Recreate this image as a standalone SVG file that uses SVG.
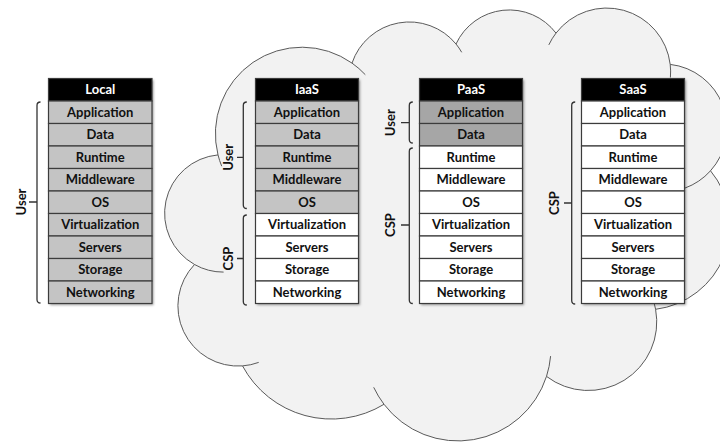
<svg xmlns="http://www.w3.org/2000/svg" width="720" height="444" viewBox="0 0 720 444">
  <defs>
    <filter id="shadow" x="-10%" y="-10%" width="130%" height="130%">
      <feDropShadow dx="1.5" dy="1.5" stdDeviation="1" flood-color="#000" flood-opacity="0.4"/>
    </filter>
  </defs>
  <style>
    .cloud { fill: #f2f2f2; stroke: #5a5a5a; stroke-width: 1; }
    .tail { fill: none; stroke: #5a5a5a; stroke-width: 1; }
    .base { fill: #fff; filter: url(#shadow); }
    .c { stroke: #3c3c3c; stroke-width: 1.2; }
    .hdr { fill: #000; }
    .w { fill: #fff; }
    .g1 { fill: #c4c4c4; }
    .g2 { fill: #a6a6a6; }
    .t { font-family: Lato, "Liberation Sans", sans-serif; font-weight: bold; font-size: 13px; text-anchor: middle; fill: #111; }
    .th { fill: #fff; }
    .br { fill: none; stroke: #333; stroke-width: 1.3; }
  </style>

  <rect width="720" height="444" fill="#fff"/>

  <!-- cloud outline built from circular bumps -->
  <g id="cloud">
    <path class="cloud" d="M218,154.9 A86.6,86.6 0 0 1 352,63.1 A60.5,60.5 0 0 1 456,44 A58.7,58.7 0 0 1 556,33.1 A63.9,63.9 0 0 1 670.2,64.4 A64,64 0 0 1 710.5,170.8 A85,85 0 0 1 655.6,309.3 A68.6,68.6 0 0 1 546.5,376.4 A93,93 0 0 1 384,404.3 A101,101 0 0 1 242.5,365.9 A60.1,60.1 0 0 1 194.5,264.5 A58.7,58.7 0 0 1 218,154.9 Z"/>
    <!-- inner ends of the bumps -->
    <path class="tail" d="M352,63.1 A86.6,86.6 0 0 1 365.3,74.7"/>
    <path class="tail" d="M221.7,166.2 A86.6,86.6 0 0 1 218,154.9"/>
    <path class="tail" d="M456,44 A60.5,60.5 0 0 1 461.7,52.3"/>
    <path class="tail" d="M548.8,44.9 A63.9,63.9 0 0 1 556,33.1"/>
    <path class="tail" d="M670.2,64.4 A63.9,63.9 0 0 1 670.4,77.5"/>
    <path class="tail" d="M710.5,170.8 A64,64 0 0 1 684.9,188.1"/>
    <path class="tail" d="M653.3,300.7 A68.6,68.6 0 0 1 655.6,309.3"/>
    <path class="tail" d="M550.6,356.1 A93,93 0 0 1 546.5,376.4"/>
    <path class="tail" d="M384,404.3 A93,93 0 0 1 373.7,387.3"/>
    <path class="tail" d="M258.7,362.4 A60.1,60.1 0 0 1 242.5,365.9"/>
    <path class="tail" d="M223.6,272.1 A58.7,58.7 0 0 1 194.5,264.5"/>
  </g>

  <!-- Local stack -->
  <g id="local" transform="translate(48.5,0)">
    <rect class="base" x="0" y="78.5" width="103.5" height="225"/>
    <rect class="c hdr" x="0" y="78.5" width="103.5" height="22.5"/>
    <rect class="c g1" x="0" y="101" width="103.5" height="22.5"/>
    <rect class="c g1" x="0" y="123.5" width="103.5" height="22.5"/>
    <rect class="c g1" x="0" y="146" width="103.5" height="22.5"/>
    <rect class="c g1" x="0" y="168.5" width="103.5" height="22.5"/>
    <rect class="c g1" x="0" y="191" width="103.5" height="22.5"/>
    <rect class="c g1" x="0" y="213.5" width="103.5" height="22.5"/>
    <rect class="c g1" x="0" y="236" width="103.5" height="22.5"/>
    <rect class="c g1" x="0" y="258.5" width="103.5" height="22.5"/>
    <rect class="c g1" x="0" y="281" width="103.5" height="22.5"/>
    <text class="t th" x="51.75" y="94.3">Local</text>
    <text class="t" x="51.75" y="116.8">Application</text>
    <text class="t" x="51.75" y="139.3">Data</text>
    <text class="t" x="51.75" y="161.8">Runtime</text>
    <text class="t" x="51.75" y="184.3">Middleware</text>
    <text class="t" x="51.75" y="206.8">OS</text>
    <text class="t" x="51.75" y="229.3">Virtualization</text>
    <text class="t" x="51.75" y="251.8">Servers</text>
    <text class="t" x="51.75" y="274.3">Storage</text>
    <text class="t" x="51.75" y="296.8">Networking</text>
  </g>

  <!-- IaaS stack -->
  <g id="iaas" transform="translate(255.5,0)">
    <rect class="base" x="0" y="78.5" width="103" height="225"/>
    <rect class="c hdr" x="0" y="78.5" width="103" height="22.5"/>
    <rect class="c g1" x="0" y="101" width="103" height="22.5"/>
    <rect class="c g1" x="0" y="123.5" width="103" height="22.5"/>
    <rect class="c g1" x="0" y="146" width="103" height="22.5"/>
    <rect class="c g1" x="0" y="168.5" width="103" height="22.5"/>
    <rect class="c g1" x="0" y="191" width="103" height="22.5"/>
    <rect class="c w" x="0" y="213.5" width="103" height="22.5"/>
    <rect class="c w" x="0" y="236" width="103" height="22.5"/>
    <rect class="c w" x="0" y="258.5" width="103" height="22.5"/>
    <rect class="c w" x="0" y="281" width="103" height="22.5"/>
    <text class="t th" x="51.5" y="94.3">IaaS</text>
    <text class="t" x="51.5" y="116.8">Application</text>
    <text class="t" x="51.5" y="139.3">Data</text>
    <text class="t" x="51.5" y="161.8">Runtime</text>
    <text class="t" x="51.5" y="184.3">Middleware</text>
    <text class="t" x="51.5" y="206.8">OS</text>
    <text class="t" x="51.5" y="229.3">Virtualization</text>
    <text class="t" x="51.5" y="251.8">Servers</text>
    <text class="t" x="51.5" y="274.3">Storage</text>
    <text class="t" x="51.5" y="296.8">Networking</text>
  </g>

  <!-- PaaS stack -->
  <g id="paas" transform="translate(419.5,0)">
    <rect class="base" x="0" y="78.5" width="103" height="225"/>
    <rect class="c hdr" x="0" y="78.5" width="103" height="22.5"/>
    <rect class="c g2" x="0" y="101" width="103" height="22.5"/>
    <rect class="c g2" x="0" y="123.5" width="103" height="22.5"/>
    <rect class="c w" x="0" y="146" width="103" height="22.5"/>
    <rect class="c w" x="0" y="168.5" width="103" height="22.5"/>
    <rect class="c w" x="0" y="191" width="103" height="22.5"/>
    <rect class="c w" x="0" y="213.5" width="103" height="22.5"/>
    <rect class="c w" x="0" y="236" width="103" height="22.5"/>
    <rect class="c w" x="0" y="258.5" width="103" height="22.5"/>
    <rect class="c w" x="0" y="281" width="103" height="22.5"/>
    <text class="t th" x="51.5" y="94.3">PaaS</text>
    <text class="t" x="51.5" y="116.8">Application</text>
    <text class="t" x="51.5" y="139.3">Data</text>
    <text class="t" x="51.5" y="161.8">Runtime</text>
    <text class="t" x="51.5" y="184.3">Middleware</text>
    <text class="t" x="51.5" y="206.8">OS</text>
    <text class="t" x="51.5" y="229.3">Virtualization</text>
    <text class="t" x="51.5" y="251.8">Servers</text>
    <text class="t" x="51.5" y="274.3">Storage</text>
    <text class="t" x="51.5" y="296.8">Networking</text>
  </g>

  <!-- SaaS stack -->
  <g id="saas" transform="translate(581.5,0)">
    <rect class="base" x="0" y="78.5" width="103" height="225"/>
    <rect class="c hdr" x="0" y="78.5" width="103" height="22.5"/>
    <rect class="c w" x="0" y="101" width="103" height="22.5"/>
    <rect class="c w" x="0" y="123.5" width="103" height="22.5"/>
    <rect class="c w" x="0" y="146" width="103" height="22.5"/>
    <rect class="c w" x="0" y="168.5" width="103" height="22.5"/>
    <rect class="c w" x="0" y="191" width="103" height="22.5"/>
    <rect class="c w" x="0" y="213.5" width="103" height="22.5"/>
    <rect class="c w" x="0" y="236" width="103" height="22.5"/>
    <rect class="c w" x="0" y="258.5" width="103" height="22.5"/>
    <rect class="c w" x="0" y="281" width="103" height="22.5"/>
    <text class="t th" x="51.5" y="94.3">SaaS</text>
    <text class="t" x="51.5" y="116.8">Application</text>
    <text class="t" x="51.5" y="139.3">Data</text>
    <text class="t" x="51.5" y="161.8">Runtime</text>
    <text class="t" x="51.5" y="184.3">Middleware</text>
    <text class="t" x="51.5" y="206.8">OS</text>
    <text class="t" x="51.5" y="229.3">Virtualization</text>
    <text class="t" x="51.5" y="251.8">Servers</text>
    <text class="t" x="51.5" y="274.3">Storage</text>
    <text class="t" x="51.5" y="296.8">Networking</text>
  </g>

  <!-- responsibility brackets -->
  <g id="brackets">
    <path class="br" d="M40.5,102 Q37,102 37,105.5 V299.5 Q37,303 40.5,303 M37,202 H29"/>
    <path class="br" d="M246.8,102 Q243.3,102 243.3,105.5 V205 Q243.3,208.5 246.8,208.5 M243.3,157.3 H237"/>
    <path class="br" d="M246.8,215 Q243.3,215 243.3,218.5 V301.5 Q243.3,305 246.8,305 M243.3,258.5 H237"/>
    <path class="br" d="M412.8,102 Q409.3,102 409.3,105.5 V139.5 Q409.3,143 412.8,143 M409.3,122.7 H401"/>
    <path class="br" d="M412.8,148 Q409.3,148 409.3,151.5 V300 Q409.3,303.5 412.8,303.5 M409.3,225 H401"/>
    <path class="br" d="M575.2,102 Q571.7,102 571.7,105.5 V300.5 Q571.7,304 575.2,304 M571.7,203 H564"/>
  </g>

  <!-- bracket labels -->
  <g id="labels">
    <text class="t" transform="translate(26.3,202) rotate(-90)">User</text>
    <text class="t" transform="translate(232.6,157.3) rotate(-90)">User</text>
    <text class="t" transform="translate(232.6,258.5) rotate(-90)">CSP</text>
    <text class="t" transform="translate(395.3,122.7) rotate(-90)">User</text>
    <text class="t" transform="translate(395.3,225) rotate(-90)">CSP</text>
    <text class="t" transform="translate(558.6,203) rotate(-90)">CSP</text>
  </g>
</svg>
